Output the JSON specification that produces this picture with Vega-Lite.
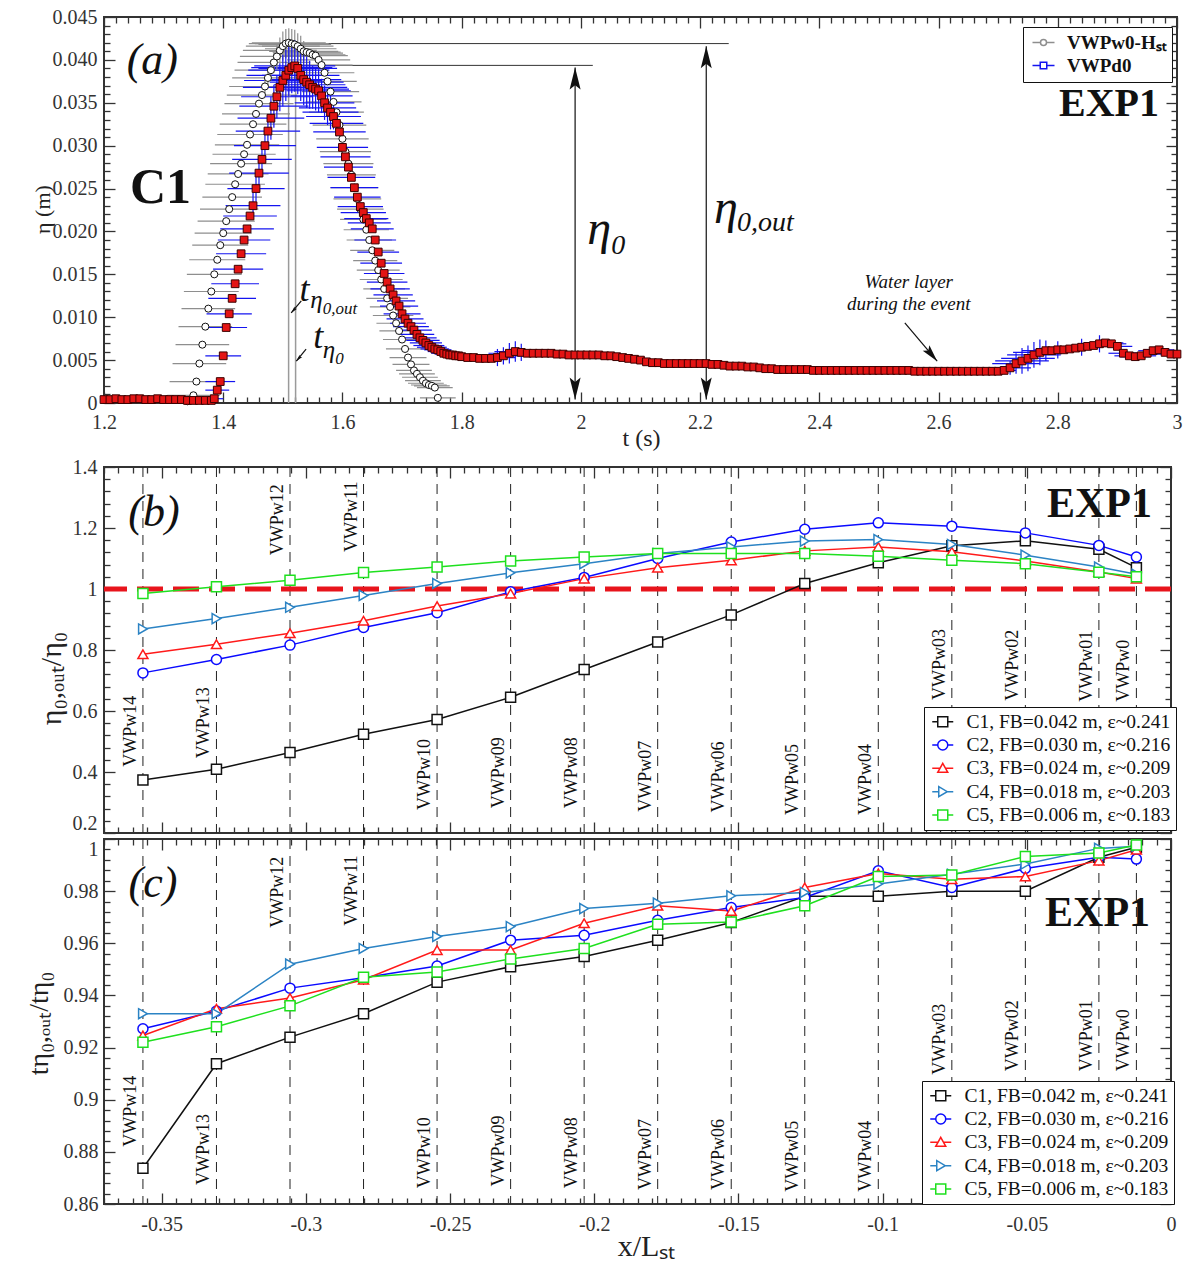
{
"$schema": "https://vega.github.io/schema/vega-lite/v6.json",
"padding": {"left": 24, "top": 6, "right": 4, "bottom": 0},
"background": "white",
"config": {
  "view": {"stroke": "#333", "strokeWidth": 2},
  "font": "Liberation Serif",
  "text": {"font": "Liberation Serif"},
  "axis": {"domain": false, "grid": false, "zindex": 1, "tickColor": "#333", "tickWidth": 1.3, "labelFont": "Liberation Serif", "labelFontSize": 20, "labelColor": "#333", "titleFont": "Liberation Serif", "titleFontWeight": "normal", "titleColor": "#222"},
  "legend": {"labelFont": "Liberation Serif"}
},
"datasets": {
"gauges": [
{"g":"VWPw14","x":-0.3565,"yb":0.4175,"yc":0.882},
{"g":"VWPw13","x":-0.331,"yb":0.445,"yc":0.8673},
{"g":"VWPw12","x":-0.3055,"yb":1.1107,"yc":0.966},
{"g":"VWPw11","x":-0.28,"yb":1.1216,"yc":0.9667},
{"g":"VWPw10","x":-0.2545,"yb":0.2755,"yc":0.866},
{"g":"VWPw09","x":-0.229,"yb":0.281,"yc":0.8667},
{"g":"VWPw08","x":-0.2035,"yb":0.281,"yc":0.866},
{"g":"VWPw07","x":-0.178,"yb":0.27,"yc":0.8654},
{"g":"VWPw06","x":-0.1525,"yb":0.267,"yc":0.8654},
{"g":"VWPw05","x":-0.127,"yb":0.259,"yc":0.8647},
{"g":"VWPw04","x":-0.1015,"yb":0.259,"yc":0.8647},
{"g":"VWPw03","x":-0.076,"yb":0.636,"yc":0.9096},
{"g":"VWPw02","x":-0.0505,"yb":0.634,"yc":0.9109},
{"g":"VWPw01","x":-0.025,"yb":0.63,"yc":0.9109},
{"g":"VWPw0","x":-0.012,"yb":0.63,"yc":0.9109}
],
"pb": [
{"c":"C1","x":-0.3565,"r":0.374},{"c":"C1","x":-0.331,"r":0.409},{"c":"C1","x":-0.3055,"r":0.464},{"c":"C1","x":-0.28,"r":0.524},{"c":"C1","x":-0.2545,"r":0.572},{"c":"C1","x":-0.229,"r":0.645},{"c":"C1","x":-0.2035,"r":0.736},{"c":"C1","x":-0.178,"r":0.826},{"c":"C1","x":-0.1525,"r":0.915},{"c":"C1","x":-0.127,"r":1.018},{"c":"C1","x":-0.1015,"r":1.086},{"c":"C1","x":-0.076,"r":1.142},{"c":"C1","x":-0.0505,"r":1.158},{"c":"C1","x":-0.025,"r":1.13},{"c":"C1","x":-0.012,"r":1.07},
{"c":"C2","x":-0.3565,"r":0.725},{"c":"C2","x":-0.331,"r":0.769},{"c":"C2","x":-0.3055,"r":0.816},{"c":"C2","x":-0.28,"r":0.874},{"c":"C2","x":-0.2545,"r":0.922},{"c":"C2","x":-0.229,"r":0.991},{"c":"C2","x":-0.2035,"r":1.038},{"c":"C2","x":-0.178,"r":1.1},{"c":"C2","x":-0.1525,"r":1.154},{"c":"C2","x":-0.127,"r":1.196},{"c":"C2","x":-0.1015,"r":1.217},{"c":"C2","x":-0.076,"r":1.206},{"c":"C2","x":-0.0505,"r":1.184},{"c":"C2","x":-0.025,"r":1.143},{"c":"C2","x":-0.012,"r":1.105},
{"c":"C3","x":-0.3565,"r":0.786},{"c":"C3","x":-0.331,"r":0.819},{"c":"C3","x":-0.3055,"r":0.855},{"c":"C3","x":-0.28,"r":0.896},{"c":"C3","x":-0.2545,"r":0.944},{"c":"C3","x":-0.229,"r":0.985},{"c":"C3","x":-0.2035,"r":1.034},{"c":"C3","x":-0.178,"r":1.07},{"c":"C3","x":-0.1525,"r":1.094},{"c":"C3","x":-0.127,"r":1.125},{"c":"C3","x":-0.1015,"r":1.138},{"c":"C3","x":-0.076,"r":1.122},{"c":"C3","x":-0.0505,"r":1.092},{"c":"C3","x":-0.025,"r":1.056},{"c":"C3","x":-0.012,"r":1.034},
{"c":"C4","x":-0.3565,"r":0.869},{"c":"C4","x":-0.331,"r":0.903},{"c":"C4","x":-0.3055,"r":0.94},{"c":"C4","x":-0.28,"r":0.979},{"c":"C4","x":-0.2545,"r":1.018},{"c":"C4","x":-0.229,"r":1.053},{"c":"C4","x":-0.2035,"r":1.083},{"c":"C4","x":-0.178,"r":1.116},{"c":"C4","x":-0.1525,"r":1.138},{"c":"C4","x":-0.127,"r":1.157},{"c":"C4","x":-0.1015,"r":1.162},{"c":"C4","x":-0.076,"r":1.146},{"c":"C4","x":-0.0505,"r":1.111},{"c":"C4","x":-0.025,"r":1.072},{"c":"C4","x":-0.012,"r":1.048},
{"c":"C5","x":-0.3565,"r":0.985},{"c":"C5","x":-0.331,"r":1.007},{"c":"C5","x":-0.3055,"r":1.029},{"c":"C5","x":-0.28,"r":1.054},{"c":"C5","x":-0.2545,"r":1.072},{"c":"C5","x":-0.229,"r":1.092},{"c":"C5","x":-0.2035,"r":1.105},{"c":"C5","x":-0.178,"r":1.116},{"c":"C5","x":-0.1525,"r":1.116},{"c":"C5","x":-0.127,"r":1.116},{"c":"C5","x":-0.1015,"r":1.107},{"c":"C5","x":-0.076,"r":1.094},{"c":"C5","x":-0.0505,"r":1.083},{"c":"C5","x":-0.025,"r":1.055},{"c":"C5","x":-0.012,"r":1.04}
],
"pc": [
{"c":"C1","x":-0.3565,"r":0.8737},{"c":"C1","x":-0.331,"r":0.9138},{"c":"C1","x":-0.3055,"r":0.924},{"c":"C1","x":-0.28,"r":0.933},{"c":"C1","x":-0.2545,"r":0.9451},{"c":"C1","x":-0.229,"r":0.951},{"c":"C1","x":-0.2035,"r":0.9549},{"c":"C1","x":-0.178,"r":0.9612},{"c":"C1","x":-0.1525,"r":0.968},{"c":"C1","x":-0.127,"r":0.978},{"c":"C1","x":-0.1015,"r":0.978},{"c":"C1","x":-0.076,"r":0.98},{"c":"C1","x":-0.0505,"r":0.98},{"c":"C1","x":-0.025,"r":0.993},{"c":"C1","x":-0.012,"r":0.9968},
{"c":"C2","x":-0.3565,"r":0.9272},{"c":"C2","x":-0.331,"r":0.934},{"c":"C2","x":-0.3055,"r":0.9428},{"c":"C2","x":-0.28,"r":0.9468},{"c":"C2","x":-0.2545,"r":0.9513},{"c":"C2","x":-0.229,"r":0.9612},{"c":"C2","x":-0.2035,"r":0.9631},{"c":"C2","x":-0.178,"r":0.9688},{"c":"C2","x":-0.1525,"r":0.9737},{"c":"C2","x":-0.127,"r":0.9776},{"c":"C2","x":-0.1015,"r":0.9878},{"c":"C2","x":-0.076,"r":0.9814},{"c":"C2","x":-0.0505,"r":0.9887},{"c":"C2","x":-0.025,"r":0.993},{"c":"C2","x":-0.012,"r":0.9923},
{"c":"C3","x":-0.3565,"r":0.9246},{"c":"C3","x":-0.331,"r":0.9349},{"c":"C3","x":-0.3055,"r":0.939},{"c":"C3","x":-0.28,"r":0.946},{"c":"C3","x":-0.2545,"r":0.9574},{"c":"C3","x":-0.229,"r":0.9574},{"c":"C3","x":-0.2035,"r":0.9677},{"c":"C3","x":-0.178,"r":0.9744},{"c":"C3","x":-0.1525,"r":0.9724},{"c":"C3","x":-0.127,"r":0.9814},{"c":"C3","x":-0.1015,"r":0.9868},{"c":"C3","x":-0.076,"r":0.9846},{"c":"C3","x":-0.0505,"r":0.9856},{"c":"C3","x":-0.025,"r":0.9917},{"c":"C3","x":-0.012,"r":0.9959},
{"c":"C4","x":-0.3565,"r":0.933},{"c":"C4","x":-0.331,"r":0.933},{"c":"C4","x":-0.3055,"r":0.952},{"c":"C4","x":-0.28,"r":0.958},{"c":"C4","x":-0.2545,"r":0.9626},{"c":"C4","x":-0.229,"r":0.9664},{"c":"C4","x":-0.2035,"r":0.9733},{"c":"C4","x":-0.178,"r":0.9754},{"c":"C4","x":-0.1525,"r":0.9782},{"c":"C4","x":-0.127,"r":0.9795},{"c":"C4","x":-0.1015,"r":0.9827},{"c":"C4","x":-0.076,"r":0.9865},{"c":"C4","x":-0.0505,"r":0.9904},{"c":"C4","x":-0.025,"r":0.9964},{"c":"C4","x":-0.012,"r":0.9972},
{"c":"C5","x":-0.3565,"r":0.922},{"c":"C5","x":-0.331,"r":0.928},{"c":"C5","x":-0.3055,"r":0.936},{"c":"C5","x":-0.28,"r":0.947},{"c":"C5","x":-0.2545,"r":0.949},{"c":"C5","x":-0.229,"r":0.954},{"c":"C5","x":-0.2035,"r":0.958},{"c":"C5","x":-0.178,"r":0.9673},{"c":"C5","x":-0.1525,"r":0.9682},{"c":"C5","x":-0.127,"r":0.9744},{"c":"C5","x":-0.1015,"r":0.9856},{"c":"C5","x":-0.076,"r":0.9862},{"c":"C5","x":-0.0505,"r":0.9933},{"c":"C5","x":-0.025,"r":0.9946},{"c":"C5","x":-0.012,"r":0.9977}
],
"pa": [
{"s":"w","t":1.34,"y":0.0002,"e":0.04},{"s":"w","t":1.345,"y":0.0004,"e":0.042},{"s":"w","t":1.35,"y":0.0009,"e":0.044},{"s":"w","t":1.355,"y":0.0025,"e":0.045},{"s":"w","t":1.36,"y":0.0046,"e":0.045},{"s":"w","t":1.365,"y":0.0068,"e":0.045},{"s":"w","t":1.37,"y":0.0089,"e":0.045},{"s":"w","t":1.375,"y":0.011,"e":0.045},{"s":"w","t":1.38,"y":0.013,"e":0.046},{"s":"w","t":1.385,"y":0.015,"e":0.046},{"s":"w","t":1.39,"y":0.0167,"e":0.047},{"s":"w","t":1.395,"y":0.0184,"e":0.047},{"s":"w","t":1.4,"y":0.0198,"e":0.048},{"s":"w","t":1.405,"y":0.0212,"e":0.048},{"s":"w","t":1.41,"y":0.0226,"e":0.049},{"s":"w","t":1.415,"y":0.024,"e":0.05},{"s":"w","t":1.42,"y":0.0255,"e":0.05},{"s":"w","t":1.425,"y":0.0267,"e":0.051},{"s":"w","t":1.43,"y":0.0279,"e":0.052},{"s":"w","t":1.435,"y":0.029,"e":0.053},{"s":"w","t":1.44,"y":0.0301,"e":0.054},{"s":"w","t":1.445,"y":0.0313,"e":0.055},{"s":"w","t":1.45,"y":0.0325,"e":0.056},{"s":"w","t":1.455,"y":0.0337,"e":0.057},{"s":"w","t":1.46,"y":0.0349,"e":0.058},{"s":"w","t":1.465,"y":0.0359,"e":0.059},{"s":"w","t":1.47,"y":0.0369,"e":0.06,"v":0.001},{"s":"w","t":1.475,"y":0.0379,"e":0.06,"v":0.001},{"s":"w","t":1.48,"y":0.0388,"e":0.061,"v":0.0012},{"s":"w","t":1.485,"y":0.0397,"e":0.061,"v":0.0012},{"s":"w","t":1.49,"y":0.0404,"e":0.062,"v":0.0015},{"s":"w","t":1.495,"y":0.0411,"e":0.062,"v":0.0015},{"s":"w","t":1.5,"y":0.0416,"e":0.062,"v":0.0017},{"s":"w","t":1.505,"y":0.0419,"e":0.062,"v":0.0017},{"s":"w","t":1.51,"y":0.042,"e":0.062,"v":0.0017},{"s":"w","t":1.515,"y":0.0419,"e":0.062,"v":0.0017},{"s":"w","t":1.52,"y":0.0418,"e":0.061,"v":0.0017},{"s":"w","t":1.525,"y":0.0416,"e":0.06,"v":0.0015},{"s":"w","t":1.53,"y":0.0413,"e":0.06,"v":0.0015},{"s":"w","t":1.535,"y":0.041,"e":0.058,"v":0.0012},{"s":"w","t":1.54,"y":0.0409,"e":0.057},{"s":"w","t":1.545,"y":0.0408,"e":0.056},{"s":"w","t":1.55,"y":0.0406,"e":0.055},{"s":"w","t":1.555,"y":0.0405,"e":0.054},{"s":"w","t":1.56,"y":0.04,"e":0.053},{"s":"w","t":1.565,"y":0.0394,"e":0.052},{"s":"w","t":1.57,"y":0.0385,"e":0.05},{"s":"w","t":1.575,"y":0.0375,"e":0.049},{"s":"w","t":1.58,"y":0.0363,"e":0.048},{"s":"w","t":1.585,"y":0.0351,"e":0.047},{"s":"w","t":1.59,"y":0.0339,"e":0.046},{"s":"w","t":1.595,"y":0.0324,"e":0.045},{"s":"w","t":1.6,"y":0.0308,"e":0.044},{"s":"w","t":1.605,"y":0.0293,"e":0.043},{"s":"w","t":1.61,"y":0.0279,"e":0.042},{"s":"w","t":1.615,"y":0.0266,"e":0.041},{"s":"w","t":1.62,"y":0.0251,"e":0.04},{"s":"w","t":1.625,"y":0.0238,"e":0.04},{"s":"w","t":1.63,"y":0.0226,"e":0.039},{"s":"w","t":1.635,"y":0.0214,"e":0.039},{"s":"w","t":1.64,"y":0.0202,"e":0.038},{"s":"w","t":1.645,"y":0.019,"e":0.038},{"s":"w","t":1.65,"y":0.0178,"e":0.037},{"s":"w","t":1.655,"y":0.0166,"e":0.037},{"s":"w","t":1.66,"y":0.0155,"e":0.036},{"s":"w","t":1.665,"y":0.0144,"e":0.036},{"s":"w","t":1.67,"y":0.0133,"e":0.035},{"s":"w","t":1.675,"y":0.0122,"e":0.035},{"s":"w","t":1.68,"y":0.0112,"e":0.034},{"s":"w","t":1.685,"y":0.0102,"e":0.034},{"s":"w","t":1.69,"y":0.0093,"e":0.033},{"s":"w","t":1.695,"y":0.0084,"e":0.033},{"s":"w","t":1.7,"y":0.0074,"e":0.032},{"s":"w","t":1.705,"y":0.0063,"e":0.032},{"s":"w","t":1.71,"y":0.0053,"e":0.031},{"s":"w","t":1.715,"y":0.0045,"e":0.031},{"s":"w","t":1.72,"y":0.0038,"e":0.03},{"s":"w","t":1.725,"y":0.0034,"e":0.03},{"s":"w","t":1.73,"y":0.003,"e":0.03},{"s":"w","t":1.735,"y":0.0026,"e":0.03},{"s":"w","t":1.74,"y":0.0023,"e":0.03},{"s":"w","t":1.745,"y":0.0021,"e":0.03},{"s":"w","t":1.75,"y":0.002,"e":0.03},{"s":"w","t":1.755,"y":0.0018,"e":0.03},{"s":"w","t":1.76,"y":0.0006,"e":0.03},
{"s":"d","t":1.2,"y":0.0004,"e":0.004},{"s":"d","t":1.21,"y":0.0004,"e":0.004},{"s":"d","t":1.22,"y":0.0005,"e":0.004},{"s":"d","t":1.23,"y":0.0004,"e":0.004},{"s":"d","t":1.24,"y":0.0004,"e":0.004},{"s":"d","t":1.25,"y":0.0005,"e":0.004},{"s":"d","t":1.26,"y":0.0005,"e":0.004},{"s":"d","t":1.27,"y":0.0004,"e":0.004},{"s":"d","t":1.28,"y":0.0004,"e":0.004},{"s":"d","t":1.29,"y":0.0005,"e":0.004},{"s":"d","t":1.3,"y":0.0004,"e":0.004},{"s":"d","t":1.31,"y":0.0004,"e":0.004},{"s":"d","t":1.32,"y":0.0004,"e":0.004},{"s":"d","t":1.33,"y":0.0004,"e":0.004},{"s":"d","t":1.34,"y":0.0003,"e":0.004},{"s":"d","t":1.35,"y":0.0003,"e":0.004},{"s":"d","t":1.36,"y":0.0003,"e":0.004},{"s":"d","t":1.37,"y":0.0003,"e":0.004},{"s":"d","t":1.38,"y":0.0003,"e":0.006},
{"s":"d","t":1.385,"y":0.0005,"e":0.015},{"s":"d","t":1.39,"y":0.0015,"e":0.02},{"s":"d","t":1.395,"y":0.0025,"e":0.025},{"s":"d","t":1.4,"y":0.0055,"e":0.03},{"s":"d","t":1.405,"y":0.0088,"e":0.035},{"s":"d","t":1.41,"y":0.0104,"e":0.038},{"s":"d","t":1.415,"y":0.0122,"e":0.04},{"s":"d","t":1.42,"y":0.0139,"e":0.04},{"s":"d","t":1.425,"y":0.0156,"e":0.042},{"s":"d","t":1.43,"y":0.0174,"e":0.042},{"s":"d","t":1.435,"y":0.019,"e":0.044},{"s":"d","t":1.44,"y":0.0203,"e":0.045},{"s":"d","t":1.445,"y":0.0218,"e":0.045},{"s":"d","t":1.45,"y":0.023,"e":0.046,"v":0.0015},{"s":"d","t":1.455,"y":0.025,"e":0.048,"v":0.0015},{"s":"d","t":1.46,"y":0.0268,"e":0.05,"v":0.0015},{"s":"d","t":1.465,"y":0.0284,"e":0.05,"v":0.002},{"s":"d","t":1.47,"y":0.03,"e":0.052,"v":0.002},{"s":"d","t":1.475,"y":0.0317,"e":0.054,"v":0.002},{"s":"d","t":1.48,"y":0.0332,"e":0.056,"v":0.0025},{"s":"d","t":1.485,"y":0.0346,"e":0.058,"v":0.0025},{"s":"d","t":1.49,"y":0.0357,"e":0.06,"v":0.0025},{"s":"d","t":1.495,"y":0.0368,"e":0.062,"v":0.0028},{"s":"d","t":1.5,"y":0.0376,"e":0.065,"v":0.003},{"s":"d","t":1.505,"y":0.0382,"e":0.066,"v":0.003},{"s":"d","t":1.51,"y":0.0388,"e":0.068,"v":0.003},{"s":"d","t":1.515,"y":0.0391,"e":0.068,"v":0.003},{"s":"d","t":1.52,"y":0.0393,"e":0.068,"v":0.003},{"s":"d","t":1.525,"y":0.039,"e":0.066,"v":0.003},{"s":"d","t":1.53,"y":0.0382,"e":0.065,"v":0.003},{"s":"d","t":1.535,"y":0.0377,"e":0.063,"v":0.003},{"s":"d","t":1.54,"y":0.0374,"e":0.062,"v":0.003},{"s":"d","t":1.545,"y":0.0371,"e":0.06,"v":0.0028},{"s":"d","t":1.55,"y":0.0368,"e":0.058,"v":0.0025},{"s":"d","t":1.555,"y":0.0366,"e":0.056,"v":0.0025},{"s":"d","t":1.56,"y":0.0364,"e":0.054,"v":0.0025},{"s":"d","t":1.565,"y":0.0358,"e":0.052,"v":0.002},{"s":"d","t":1.57,"y":0.035,"e":0.05,"v":0.002},{"s":"d","t":1.575,"y":0.0344,"e":0.048,"v":0.002},{"s":"d","t":1.58,"y":0.0339,"e":0.047,"v":0.002},{"s":"d","t":1.585,"y":0.0334,"e":0.046,"v":0.0015},{"s":"d","t":1.59,"y":0.0326,"e":0.045,"v":0.0015},{"s":"d","t":1.595,"y":0.0316,"e":0.044},{"s":"d","t":1.6,"y":0.0298,"e":0.043},{"s":"d","t":1.605,"y":0.0287,"e":0.042},{"s":"d","t":1.61,"y":0.0275,"e":0.041},{"s":"d","t":1.615,"y":0.0263,"e":0.04},{"s":"d","t":1.62,"y":0.0251,"e":0.04},{"s":"d","t":1.625,"y":0.024,"e":0.039},{"s":"d","t":1.63,"y":0.0229,"e":0.038},{"s":"d","t":1.635,"y":0.0222,"e":0.038},{"s":"d","t":1.64,"y":0.0215,"e":0.037},{"s":"d","t":1.645,"y":0.021,"e":0.036},{"s":"d","t":1.65,"y":0.0203,"e":0.036},{"s":"d","t":1.655,"y":0.019,"e":0.035},{"s":"d","t":1.66,"y":0.0176,"e":0.035},{"s":"d","t":1.665,"y":0.0163,"e":0.035},{"s":"d","t":1.67,"y":0.0151,"e":0.034},{"s":"d","t":1.675,"y":0.0141,"e":0.034},{"s":"d","t":1.68,"y":0.0133,"e":0.033},{"s":"d","t":1.685,"y":0.0126,"e":0.033},{"s":"d","t":1.69,"y":0.0119,"e":0.032},{"s":"d","t":1.695,"y":0.0113,"e":0.032},{"s":"d","t":1.7,"y":0.0104,"e":0.031},{"s":"d","t":1.705,"y":0.0098,"e":0.031},{"s":"d","t":1.71,"y":0.0093,"e":0.03},{"s":"d","t":1.715,"y":0.0089,"e":0.03},{"s":"d","t":1.72,"y":0.0085,"e":0.03},{"s":"d","t":1.725,"y":0.008,"e":0.029},{"s":"d","t":1.73,"y":0.0076,"e":0.028},{"s":"d","t":1.735,"y":0.0073,"e":0.028},{"s":"d","t":1.74,"y":0.007,"e":0.027},{"s":"d","t":1.745,"y":0.0067,"e":0.026},{"s":"d","t":1.75,"y":0.0065,"e":0.025},{"s":"d","t":1.755,"y":0.0063,"e":0.024},{"s":"d","t":1.76,"y":0.0062,"e":0.023},{"s":"d","t":1.765,"y":0.006,"e":0.022},{"s":"d","t":1.77,"y":0.0058,"e":0.021},{"s":"d","t":1.775,"y":0.0057,"e":0.02},{"s":"d","t":1.78,"y":0.0056,"e":0.019},{"s":"d","t":1.785,"y":0.0056,"e":0.018},{"s":"d","t":1.79,"y":0.0055,"e":0.017},{"s":"d","t":1.795,"y":0.0055,"e":0.016},{"s":"d","t":1.8,"y":0.0054,"e":0.015},
{"s":"d","t":1.81,"y":0.0053,"e":0.014},{"s":"d","t":1.82,"y":0.0053,"e":0.013},{"s":"d","t":1.83,"y":0.0052,"e":0.012},{"s":"d","t":1.84,"y":0.0052,"e":0.012},{"s":"d","t":1.85,"y":0.0052,"e":0.02},{"s":"d","t":1.86,"y":0.0053,"e":0.03,"v":0.001},{"s":"d","t":1.87,"y":0.0055,"e":0.035,"v":0.001},{"s":"d","t":1.88,"y":0.0058,"e":0.035,"v":0.0012},{"s":"d","t":1.89,"y":0.006,"e":0.035,"v":0.0012},{"s":"d","t":1.9,"y":0.0059,"e":0.03,"v":0.001},{"s":"d","t":1.91,"y":0.0058,"e":0.028},{"s":"d","t":1.92,"y":0.0058,"e":0.025},{"s":"d","t":1.93,"y":0.0058,"e":0.022},{"s":"d","t":1.94,"y":0.0058,"e":0.02},{"s":"d","t":1.95,"y":0.0058,"e":0.02},{"s":"d","t":1.96,"y":0.0057,"e":0.02},{"s":"d","t":1.97,"y":0.0057,"e":0.02},{"s":"d","t":1.98,"y":0.0056,"e":0.02},{"s":"d","t":1.99,"y":0.0056,"e":0.018},{"s":"d","t":2.0,"y":0.0056,"e":0.018},{"s":"d","t":2.01,"y":0.0056,"e":0.018},{"s":"d","t":2.02,"y":0.0056,"e":0.018},{"s":"d","t":2.03,"y":0.0056,"e":0.016},{"s":"d","t":2.04,"y":0.0055,"e":0.016},{"s":"d","t":2.05,"y":0.0055,"e":0.016},{"s":"d","t":2.06,"y":0.0054,"e":0.015},{"s":"d","t":2.07,"y":0.0053,"e":0.015},{"s":"d","t":2.08,"y":0.0052,"e":0.014},{"s":"d","t":2.09,"y":0.0051,"e":0.014},{"s":"d","t":2.1,"y":0.005,"e":0.013},{"s":"d","t":2.11,"y":0.0048,"e":0.013},{"s":"d","t":2.12,"y":0.0047,"e":0.013},{"s":"d","t":2.13,"y":0.0047,"e":0.013},{"s":"d","t":2.14,"y":0.0046,"e":0.013},{"s":"d","t":2.15,"y":0.0046,"e":0.013},{"s":"d","t":2.16,"y":0.0046,"e":0.013},{"s":"d","t":2.17,"y":0.0046,"e":0.013},{"s":"d","t":2.18,"y":0.0046,"e":0.013},{"s":"d","t":2.19,"y":0.0046,"e":0.013},{"s":"d","t":2.2,"y":0.0046,"e":0.013},{"s":"d","t":2.21,"y":0.0046,"e":0.013},{"s":"d","t":2.22,"y":0.0045,"e":0.013},{"s":"d","t":2.23,"y":0.0045,"e":0.013},{"s":"d","t":2.24,"y":0.0044,"e":0.013},{"s":"d","t":2.25,"y":0.0043,"e":0.013},{"s":"d","t":2.26,"y":0.0043,"e":0.013},{"s":"d","t":2.27,"y":0.0043,"e":0.013},{"s":"d","t":2.28,"y":0.0042,"e":0.013},{"s":"d","t":2.29,"y":0.0042,"e":0.013},{"s":"d","t":2.3,"y":0.0041,"e":0.014},{"s":"d","t":2.31,"y":0.004,"e":0.014},{"s":"d","t":2.32,"y":0.004,"e":0.014},{"s":"d","t":2.33,"y":0.0039,"e":0.014},{"s":"d","t":2.34,"y":0.0039,"e":0.014},{"s":"d","t":2.35,"y":0.0039,"e":0.014},{"s":"d","t":2.36,"y":0.0039,"e":0.014},{"s":"d","t":2.37,"y":0.0039,"e":0.014},{"s":"d","t":2.38,"y":0.0039,"e":0.014},{"s":"d","t":2.39,"y":0.0038,"e":0.014},{"s":"d","t":2.4,"y":0.0038,"e":0.014},{"s":"d","t":2.41,"y":0.0038,"e":0.014},{"s":"d","t":2.42,"y":0.0038,"e":0.014},{"s":"d","t":2.43,"y":0.0038,"e":0.014},{"s":"d","t":2.44,"y":0.0038,"e":0.014},{"s":"d","t":2.45,"y":0.0038,"e":0.014},{"s":"d","t":2.46,"y":0.0038,"e":0.014},{"s":"d","t":2.47,"y":0.0038,"e":0.014},{"s":"d","t":2.48,"y":0.0038,"e":0.014},{"s":"d","t":2.49,"y":0.0038,"e":0.014},{"s":"d","t":2.5,"y":0.0038,"e":0.014},{"s":"d","t":2.51,"y":0.0038,"e":0.014},{"s":"d","t":2.52,"y":0.0038,"e":0.014},{"s":"d","t":2.53,"y":0.0038,"e":0.014},{"s":"d","t":2.54,"y":0.0038,"e":0.014},{"s":"d","t":2.55,"y":0.0038,"e":0.014},{"s":"d","t":2.56,"y":0.0037,"e":0.014},{"s":"d","t":2.57,"y":0.0037,"e":0.014},{"s":"d","t":2.58,"y":0.0037,"e":0.014},{"s":"d","t":2.59,"y":0.0037,"e":0.014},{"s":"d","t":2.6,"y":0.0037,"e":0.014},{"s":"d","t":2.61,"y":0.0037,"e":0.014},{"s":"d","t":2.62,"y":0.0037,"e":0.014},{"s":"d","t":2.63,"y":0.0037,"e":0.014},{"s":"d","t":2.64,"y":0.0037,"e":0.014},{"s":"d","t":2.65,"y":0.0037,"e":0.014},{"s":"d","t":2.66,"y":0.0037,"e":0.014},{"s":"d","t":2.67,"y":0.0037,"e":0.014},{"s":"d","t":2.68,"y":0.0037,"e":0.014},{"s":"d","t":2.69,"y":0.0037,"e":0.014},{"s":"d","t":2.7,"y":0.0037,"e":0.016},{"s":"d","t":2.71,"y":0.0038,"e":0.02},{"s":"d","t":2.72,"y":0.0041,"e":0.035,"v":0.0008},{"s":"d","t":2.73,"y":0.0046,"e":0.04,"v":0.0012},{"s":"d","t":2.74,"y":0.0049,"e":0.045,"v":0.0015},{"s":"d","t":2.75,"y":0.0052,"e":0.045,"v":0.0015},{"s":"d","t":2.76,"y":0.0056,"e":0.045,"v":0.0015},{"s":"d","t":2.77,"y":0.0059,"e":0.045,"v":0.0015},{"s":"d","t":2.78,"y":0.0061,"e":0.04,"v":0.0012},{"s":"d","t":2.79,"y":0.0061,"e":0.04},{"s":"d","t":2.8,"y":0.0062,"e":0.04,"v":0.001},{"s":"d","t":2.81,"y":0.0062,"e":0.035},{"s":"d","t":2.82,"y":0.0063,"e":0.035},{"s":"d","t":2.83,"y":0.0064,"e":0.035},{"s":"d","t":2.84,"y":0.0065,"e":0.035,"v":0.001},{"s":"d","t":2.85,"y":0.0066,"e":0.03},{"s":"d","t":2.86,"y":0.0067,"e":0.03},{"s":"d","t":2.87,"y":0.0069,"e":0.03,"v":0.001},{"s":"d","t":2.88,"y":0.007,"e":0.03},{"s":"d","t":2.89,"y":0.0069,"e":0.025},{"s":"d","t":2.9,"y":0.0066,"e":0.025},{"s":"d","t":2.91,"y":0.0058,"e":0.025},{"s":"d","t":2.92,"y":0.0055,"e":0.025},{"s":"d","t":2.93,"y":0.0054,"e":0.025},{"s":"d","t":2.94,"y":0.0055,"e":0.025},{"s":"d","t":2.95,"y":0.0058,"e":0.025},{"s":"d","t":2.96,"y":0.0061,"e":0.025},{"s":"d","t":2.97,"y":0.0062,"e":0.025},{"s":"d","t":2.98,"y":0.0059,"e":0.025},{"s":"d","t":2.99,"y":0.0057,"e":0.025},{"s":"d","t":3.0,"y":0.0057,"e":0.025}
]
},
"spacing": 5,
"resolve": {"scale": {"color": "independent", "shape": "independent"}, "legend": {"color": "independent", "shape": "independent"}},
"vconcat": [
{
 "width": 1073, "height": 386,
 "resolve": {"axis": {"x": "independent", "y": "independent"}},
 "layer": [
  {"data": {"name": "pa"}, "mark": {"type": "point", "opacity": 0},
   "encoding": {"x": {"field": "t", "type": "quantitative", "scale": {"domain": [1.2, 3], "nice": false, "zero": false, "clamp": true},
       "axis": {"orient": "bottom", "tickCount": 90, "tickSize": -11, "tickDash": {"condition": {"test": "abs(datum.value*5-round(datum.value*5))<1e-6", "value": [20, 0]}, "value": [6, 30]}, "labelExpr": "abs(datum.value*5-round(datum.value*5))<1e-6 ? format(datum.value,'~g') : ''", "labelPadding": 20, "labelOverlap": false, "labelFlush": false, "title": "t (s)", "titleFontSize": 24, "titleX": 537, "titleY": 23, "titleBaseline": "top"}},
     "y": {"field": "y", "type": "quantitative", "scale": {"domain": [0, 0.045], "nice": false, "zero": false},
       "axis": {"orient": "left", "tickCount": 45, "tickSize": -11, "tickDash": {"condition": {"test": "abs(datum.value*200-round(datum.value*200))<1e-6", "value": [20, 0]}, "value": [6, 30]}, "labelExpr": "abs(datum.value*200-round(datum.value*200))<1e-6 ? (datum.value==0 ? '0' : format(datum.value,'.3f')) : ''", "labelPadding": 18, "labelOverlap": false, "labelFlush": false, "title": "η (m)", "titleFontSize": 22, "titleAngle": 270, "titleX": -62, "titleY": 192, "titleBaseline": "middle", "titleAlign": "center"}}}},
  {"data": {"name": "pa"}, "mark": {"type": "point", "opacity": 0},
   "encoding": {"x": {"field": "t", "type": "quantitative", "scale": {"domain": [1.2, 3], "nice": false, "zero": false, "clamp": true},
       "axis": {"orient": "top", "tickCount": 90, "tickSize": -11, "tickDash": {"condition": {"test": "abs(datum.value*5-round(datum.value*5))<1e-6", "value": [20, 0]}, "value": [6, 30]}, "labels": false, "title": null}},
     "y": {"field": "y", "type": "quantitative", "scale": {"domain": [0, 0.045], "nice": false, "zero": false},
       "axis": {"orient": "right", "tickCount": 45, "tickSize": -11, "tickDash": {"condition": {"test": "abs(datum.value*200-round(datum.value*200))<1e-6", "value": [20, 0]}, "value": [6, 30]}, "labels": false, "title": null}}}},
  {"data": {"values": [{"t":1.5097,"y1":0,"y2":0.0419},{"t":1.5214,"y1":0,"y2":0.0393}]},
   "mark": {"type": "rule", "color": "#9a9a9a", "strokeWidth": 1.5},
   "encoding": {"x": {"field": "t", "type": "quantitative", "scale": {"domain": [1.2, 3], "nice": false, "zero": false, "clamp": true}, "axis": null},
     "y": {"field": "y1", "type": "quantitative", "scale": {"domain": [0, 0.045], "nice": false, "zero": false}, "axis": null}, "y2": {"field": "y2"}}},
  {"data": {"values": [{"x1":1.5097,"x2":2.248,"y":0.0419},{"x1":1.5214,"x2":2.02,"y":0.03936}]},
   "mark": {"type": "rule", "color": "#333", "strokeWidth": 1},
   "encoding": {"x": {"field": "x1", "type": "quantitative", "scale": {"domain": [1.2, 3], "nice": false, "zero": false, "clamp": true}, "axis": null},
     "x2": {"field": "x2"},
     "y": {"field": "y", "type": "quantitative", "scale": {"domain": [0, 0.045], "nice": false, "zero": false}, "axis": null}}},
  {"data": {"name": "pa"},
   "mark": {"type": "errorbar", "thickness": 1.2},
   "encoding": {"x": {"field": "t", "type": "quantitative", "scale": {"domain": [1.2, 3], "nice": false, "zero": false, "clamp": true}, "axis": null},
     "xError": {"field": "e"},
     "y": {"field": "y", "type": "quantitative", "scale": {"domain": [0, 0.045], "nice": false, "zero": false}, "axis": null},
     "color": {"field": "s", "type": "nominal", "scale": {"domain": ["w", "d"], "range": ["#8e8e8e", "#1414f0"]},
       "legend": {"title": null, "orient": "none", "legendX": 919, "legendY": 10, "padding": 6, "fillColor": "white", "strokeColor": "#111", "labelFontSize": 19, "labelFontWeight": "bold", "labelColor": "#111", "labelLimit": 300, "labelExpr": "datum.value=='w' ? 'VWPw0-Hₛₜ' : 'VWPd0'", "symbolSize": 100, "symbolOffset": 5, "labelOffset": 14, "rowPadding": 3, "symbolStrokeWidth": 1.5, "symbolFillColor": "white", "symbolOpacity": 1}}}},
  {"data": {"name": "pa"}, "transform": [{"filter": "datum.v > 0"}],
   "mark": {"type": "errorbar", "thickness": 1.2},
   "encoding": {"x": {"field": "t", "type": "quantitative", "scale": {"domain": [1.2, 3], "nice": false, "zero": false, "clamp": true}, "axis": null},
     "y": {"field": "y", "type": "quantitative", "scale": {"domain": [0, 0.045], "nice": false, "zero": false}, "axis": null},
     "yError": {"field": "v"},
     "color": {"field": "s", "type": "nominal", "scale": {"domain": ["w", "d"], "range": ["#8e8e8e", "#1414f0"]},
       "legend": {"title": null, "orient": "none", "legendX": 919, "legendY": 10, "padding": 6, "fillColor": "white", "strokeColor": "#111", "labelFontSize": 19, "labelFontWeight": "bold", "labelColor": "#111", "labelLimit": 300, "labelExpr": "datum.value=='w' ? 'VWPw0-Hₛₜ' : 'VWPd0'", "symbolSize": 100, "symbolOffset": 5, "labelOffset": 14, "rowPadding": 3, "symbolStrokeWidth": 1.5, "symbolFillColor": "white", "symbolOpacity": 1}}}},
  {"data": {"values": [{"x1":1.9903,"y1":0.0004,"x2":1.9903,"y2":0.0391},{"x1":2.2103,"y1":0.0004,"x2":2.2103,"y2":0.0416},{"x1":2.5434,"y1":0.00933,"x2":2.5977,"y2":0.00487},{"x1":1.531,"y1":0.0119,"x2":1.514,"y2":0.0105},{"x1":1.539,"y1":0.00627,"x2":1.5226,"y2":0.00487}]},
   "mark": {"type": "rule", "color": "#111", "strokeWidth": 1.2},
   "encoding": {"x": {"field": "x1", "type": "quantitative", "scale": {"domain": [1.2, 3], "nice": false, "zero": false, "clamp": true}, "axis": null},
     "y": {"field": "y1", "type": "quantitative", "scale": {"domain": [0, 0.045], "nice": false, "zero": false}, "axis": null},
     "x2": {"field": "x2"}, "y2": {"field": "y2"}}},
  {"data": {"name": "pa"}, "mark": {"type": "point", "filled": false, "opacity": 0, "strokeWidth": 1.5},
   "encoding": {"x": {"field": "t", "type": "quantitative", "scale": {"domain": [1.2, 3], "nice": false, "zero": false, "clamp": true}, "axis": null},
     "y": {"field": "y", "type": "quantitative", "scale": {"domain": [0, 0.045], "nice": false, "zero": false}, "axis": null},
     "color": {"field": "s", "type": "nominal", "scale": {"domain": ["w", "d"], "range": ["#8e8e8e", "#1414f0"]},
       "legend": {"title": null, "orient": "none", "legendX": 919, "legendY": 10, "padding": 6, "fillColor": "white", "strokeColor": "#111", "labelFontSize": 19, "labelFontWeight": "bold", "labelColor": "#111", "labelLimit": 300, "labelExpr": "datum.value=='w' ? 'VWPw0-Hₛₜ' : 'VWPd0'", "symbolSize": 100, "symbolOffset": 5, "labelOffset": 14, "rowPadding": 3, "symbolStrokeWidth": 1.5, "symbolFillColor": "white", "symbolOpacity": 1}},
     "shape": {"field": "s", "type": "nominal", "scale": {"domain": ["w", "d"], "range": ["M-2.2,0H-0.6M0.6,0H2.2M-0.6,0A0.6,0.6 0 1,0 0.6,0A0.6,0.6 0 1,0 -0.6,0Z", "M-2.2,0H-0.65M0.65,0H2.2M-0.65,-0.65H0.65V0.65H-0.65Z"]},
       "legend": {"title": null, "orient": "none", "legendX": 919, "legendY": 10, "padding": 6, "fillColor": "white", "strokeColor": "#111", "labelFontSize": 19, "labelFontWeight": "bold", "labelColor": "#111", "labelLimit": 300, "labelExpr": "datum.value=='w' ? 'VWPw0-Hₛₜ' : 'VWPd0'", "symbolSize": 100, "symbolOffset": 5, "labelOffset": 14, "rowPadding": 3, "symbolStrokeWidth": 1.5, "symbolFillColor": "white", "symbolOpacity": 1}}}},
  {"data": {"name": "pa"}, "transform": [{"filter": "datum.s == 'w'"}],
   "mark": {"type": "point", "shape": "circle", "filled": true, "fill": "#ffffff", "stroke": "#111111", "opacity": 1, "strokeWidth": 1, "size": 50},
   "encoding": {"x": {"field": "t", "type": "quantitative", "scale": {"domain": [1.2, 3], "nice": false, "zero": false, "clamp": true}, "axis": null},
     "y": {"field": "y", "type": "quantitative", "scale": {"domain": [0, 0.045], "nice": false, "zero": false}, "axis": null}}},
  {"data": {"name": "pa"}, "transform": [{"filter": "datum.s == 'd'"}],
   "mark": {"type": "point", "shape": "square", "filled": true, "fill": "#e31414", "stroke": "#3c0000", "opacity": 1, "strokeWidth": 1, "size": 60},
   "encoding": {"x": {"field": "t", "type": "quantitative", "scale": {"domain": [1.2, 3], "nice": false, "zero": false, "clamp": true}, "axis": null},
     "y": {"field": "y", "type": "quantitative", "scale": {"domain": [0, 0.045], "nice": false, "zero": false}, "axis": null}}},
  {"data": {"values": [{"t":1.9903,"y":0.0391},{"t":2.2103,"y":0.0416}]},
   "mark": {"type": "point", "shape": "M0,0L0.5,2L0,1.6L-0.5,2Z", "size": 484, "filled": true, "color": "#111", "opacity": 1},
   "encoding": {"x": {"field": "t", "type": "quantitative", "scale": {"domain": [1.2, 3], "nice": false, "zero": false, "clamp": true}, "axis": null},
     "y": {"field": "y", "type": "quantitative", "scale": {"domain": [0, 0.045], "nice": false, "zero": false}, "axis": null}}},
  {"data": {"values": [{"t":1.9903,"y":0.0004},{"t":2.2103,"y":0.0004}]},
   "mark": {"type": "point", "shape": "M0,0L0.5,-2L0,-1.6L-0.5,-2Z", "size": 484, "filled": true, "color": "#111", "opacity": 1},
   "encoding": {"x": {"field": "t", "type": "quantitative", "scale": {"domain": [1.2, 3], "nice": false, "zero": false, "clamp": true}, "axis": null},
     "y": {"field": "y", "type": "quantitative", "scale": {"domain": [0, 0.045], "nice": false, "zero": false}, "axis": null}}},
  {"data": {"values": [{"t":2.5977,"y":0.00487}]},
   "mark": {"type": "point", "shape": "M0,0L0.5,-2L0,-1.6L-0.5,-2Z", "size": 300, "angle": 320, "filled": true, "color": "#111", "opacity": 1},
   "encoding": {"x": {"field": "t", "type": "quantitative", "scale": {"domain": [1.2, 3], "nice": false, "zero": false, "clamp": true}, "axis": null},
     "y": {"field": "y", "type": "quantitative", "scale": {"domain": [0, 0.045], "nice": false, "zero": false}, "axis": null}}},
  {"data": {"values": [{"t":1.514,"y":0.0105},{"t":1.5226,"y":0.00487}]},
   "mark": {"type": "point", "shape": "M0,0L0.5,-2L0,-1.6L-0.5,-2Z", "size": 50, "angle": 41, "filled": true, "color": "#111", "opacity": 1},
   "encoding": {"x": {"field": "t", "type": "quantitative", "scale": {"domain": [1.2, 3], "nice": false, "zero": false, "clamp": true}, "axis": null},
     "y": {"field": "y", "type": "quantitative", "scale": {"domain": [0, 0.045], "nice": false, "zero": false}, "axis": null}}},
  {"data": {"values": [{"t":1.2947,"y":0.0233,"s":"C1"}]},
   "mark": {"type": "text", "fontSize": 50, "fontWeight": "bold", "align": "center", "baseline": "alphabetic", "color": "#111"},
   "encoding": {"x": {"field": "t", "type": "quantitative", "scale": {"domain": [1.2, 3], "nice": false, "zero": false, "clamp": true}, "axis": null},
     "y": {"field": "y", "type": "quantitative", "scale": {"domain": [0, 0.045], "nice": false, "zero": false}, "axis": null}, "text": {"field": "s"}}},
  {"data": {"values": [{"t":2.886,"y":0.03344,"s":"EXP1"}]},
   "mark": {"type": "text", "fontSize": 40, "fontWeight": "bold", "align": "center", "baseline": "alphabetic", "color": "#111"},
   "encoding": {"x": {"field": "t", "type": "quantitative", "scale": {"domain": [1.2, 3], "nice": false, "zero": false, "clamp": true}, "axis": null},
     "y": {"field": "y", "type": "quantitative", "scale": {"domain": [0, 0.045], "nice": false, "zero": false}, "axis": null}, "text": {"field": "s"}}},
  {"data": {"values": [{"t":1.281,"y":0.03985,"s":"(a)"}]},
   "mark": {"type": "text", "fontSize": 44, "fontStyle": "italic", "align": "center", "baseline": "middle", "color": "#111"},
   "encoding": {"x": {"field": "t", "type": "quantitative", "scale": {"domain": [1.2, 3], "nice": false, "zero": false, "clamp": true}, "axis": null},
     "y": {"field": "y", "type": "quantitative", "scale": {"domain": [0, 0.045], "nice": false, "zero": false}, "axis": null}, "text": {"field": "s"}}},
  {"data": {"values": [{"t":2.0107,"y":0.0185,"s":"η"},{"t":2.2235,"y":0.021,"s":"η"}]},
   "mark": {"type": "text", "fontSize": 48, "fontStyle": "italic", "align": "left", "baseline": "alphabetic", "color": "#111"},
   "encoding": {"x": {"field": "t", "type": "quantitative", "scale": {"domain": [1.2, 3], "nice": false, "zero": false, "clamp": true}, "axis": null},
     "y": {"field": "y", "type": "quantitative", "scale": {"domain": [0, 0.045], "nice": false, "zero": false}, "axis": null}, "text": {"field": "s"}}},
  {"data": {"values": [{"t":2.051,"y":0.0174,"s":"0"},{"t":2.262,"y":0.02,"s":"0,out"}]},
   "mark": {"type": "text", "fontSize": 28, "fontStyle": "italic", "align": "left", "baseline": "alphabetic", "color": "#111"},
   "encoding": {"x": {"field": "t", "type": "quantitative", "scale": {"domain": [1.2, 3], "nice": false, "zero": false, "clamp": true}, "axis": null},
     "y": {"field": "y", "type": "quantitative", "scale": {"domain": [0, 0.045], "nice": false, "zero": false}, "axis": null}, "text": {"field": "s"}}},
  {"data": {"values": [{"t":1.528,"y":0.01187,"s":"t"},{"t":1.551,"y":0.00638,"s":"t"}]},
   "mark": {"type": "text", "fontSize": 36, "fontStyle": "italic", "align": "left", "baseline": "alphabetic", "color": "#111"},
   "encoding": {"x": {"field": "t", "type": "quantitative", "scale": {"domain": [1.2, 3], "nice": false, "zero": false, "clamp": true}, "axis": null},
     "y": {"field": "y", "type": "quantitative", "scale": {"domain": [0, 0.045], "nice": false, "zero": false}, "axis": null}, "text": {"field": "s"}}},
  {"data": {"values": [{"t":1.546,"y":0.0111,"s":"η"},{"t":1.567,"y":0.0052,"s":"η"}]},
   "mark": {"type": "text", "fontSize": 25, "fontStyle": "italic", "align": "left", "baseline": "alphabetic", "color": "#111"},
   "encoding": {"x": {"field": "t", "type": "quantitative", "scale": {"domain": [1.2, 3], "nice": false, "zero": false, "clamp": true}, "axis": null},
     "y": {"field": "y", "type": "quantitative", "scale": {"domain": [0, 0.045], "nice": false, "zero": false}, "axis": null}, "text": {"field": "s"}}},
  {"data": {"values": [{"t":1.567,"y":0.0104,"s":"0,out"},{"t":1.588,"y":0.0046,"s":"0"}]},
   "mark": {"type": "text", "fontSize": 17, "fontStyle": "italic", "align": "left", "baseline": "alphabetic", "color": "#111"},
   "encoding": {"x": {"field": "t", "type": "quantitative", "scale": {"domain": [1.2, 3], "nice": false, "zero": false, "clamp": true}, "axis": null},
     "y": {"field": "y", "type": "quantitative", "scale": {"domain": [0, 0.045], "nice": false, "zero": false}, "axis": null}, "text": {"field": "s"}}},
  {"data": {"values": [{"t":2.55,"y":0.01335,"s":"Water layer"},{"t":2.55,"y":0.0108,"s":"during the event"}]},
   "mark": {"type": "text", "fontSize": 19, "fontStyle": "italic", "align": "center", "baseline": "alphabetic", "color": "#111"},
   "encoding": {"x": {"field": "t", "type": "quantitative", "scale": {"domain": [1.2, 3], "nice": false, "zero": false, "clamp": true}, "axis": null},
     "y": {"field": "y", "type": "quantitative", "scale": {"domain": [0, 0.045], "nice": false, "zero": false}, "axis": null}, "text": {"field": "s"}}}
 ]
},
{
 "spacing": 0,
 "resolve": {"scale": {"color": "independent", "shape": "independent"}, "legend": {"color": "independent", "shape": "independent"}},
 "vconcat": [
 {
  "width": 1067, "height": 366,
  "resolve": {"axis": {"x": "independent", "y": "independent"}},
  "layer": [
   {"data": {"name": "pb"}, "mark": {"type": "point", "opacity": 0},
    "encoding": {"x": {"field": "x", "type": "quantitative", "scale": {"domain": [-0.37, 0], "nice": false, "zero": false},
      "axis": {"orient": "bottom", "tickCount": 74, "tickSize": -11, "tickDash": {"condition": {"test": "abs(datum.value*20-round(datum.value*20))<1e-6", "value": [20, 0]}, "value": [6, 30]}, "labels": false, "title": null}},
     "y": {"field": "r", "type": "quantitative", "scale": {"domain": [0.2, 1.4], "nice": false, "zero": false},
      "axis": {"orient": "left", "values": [0.2,0.24,0.28,0.32,0.36,0.4,0.44,0.48,0.52,0.56,0.6,0.64,0.68,0.72,0.76,0.8,0.84,0.88,0.92,0.96,1,1.04,1.08,1.12,1.16,1.2,1.24,1.28,1.32,1.36,1.4], "tickSize": -11, "tickDash": {"condition": {"test": "abs(datum.value*5-round(datum.value*5))<1e-6", "value": [20, 0]}, "value": [6, 30]}, "labelExpr": "abs(datum.value*5-round(datum.value*5))<1e-6 ? format(datum.value,'~g') : ''", "labelPadding": 18, "labelOverlap": false, "labelFlush": false, "labelBaseline": {"condition": {"test": "datum.value < 0.21", "value": "bottom"}, "value": "middle"}, "title": "η₀,ₒᵤₜ/η₀", "titleFontSize": 30, "titleAngle": 270, "titleX": -53, "titleY": 211, "titleBaseline": "middle", "titleAlign": "center"}}}},
   {"data": {"name": "pb"}, "mark": {"type": "point", "opacity": 0},
    "encoding": {"x": {"field": "x", "type": "quantitative", "scale": {"domain": [-0.37, 0], "nice": false, "zero": false},
      "axis": {"orient": "top", "tickCount": 74, "tickSize": -11, "tickDash": {"condition": {"test": "abs(datum.value*20-round(datum.value*20))<1e-6", "value": [20, 0]}, "value": [6, 30]}, "labels": false, "title": null}},
     "y": {"field": "r", "type": "quantitative", "scale": {"domain": [0.2, 1.4], "nice": false, "zero": false},
      "axis": {"orient": "right", "values": [0.2,0.24,0.28,0.32,0.36,0.4,0.44,0.48,0.52,0.56,0.6,0.64,0.68,0.72,0.76,0.8,0.84,0.88,0.92,0.96,1,1.04,1.08,1.12,1.16,1.2,1.24,1.28,1.32,1.36,1.4], "tickSize": -11, "tickDash": {"condition": {"test": "abs(datum.value*5-round(datum.value*5))<1e-6", "value": [20, 0]}, "value": [6, 30]}, "labels": false, "title": null}}}},
   {"data": {"name": "gauges"},
    "mark": {"type": "rule", "color": "#222", "strokeWidth": 1, "strokeDash": [10, 7]},
    "encoding": {"x": {"field": "x", "type": "quantitative", "scale": {"domain": [-0.37, 0], "nice": false, "zero": false}, "axis": null}}},
   {"data": {"name": "gauges"},
    "mark": {"type": "text", "angle": 270, "align": "left", "baseline": "middle", "dy": -12, "fontSize": 18, "color": "#111"},
    "encoding": {"x": {"field": "x", "type": "quantitative", "scale": {"domain": [-0.37, 0], "nice": false, "zero": false}, "axis": null},
      "y": {"field": "yb", "type": "quantitative", "scale": {"domain": [0.2, 1.4], "nice": false, "zero": false}, "axis": null},
      "text": {"field": "g"}}},
   {"data": {"values": [{}]},
    "mark": {"type": "rule", "color": "#e8141c", "strokeWidth": 5, "strokeDash": [26, 10]},
    "encoding": {"y": {"datum": 1, "type": "quantitative", "scale": {"domain": [0.2, 1.4], "nice": false, "zero": false}, "axis": null}}},
   {"data": {"name": "pb"},
    "mark": {"type": "line", "strokeWidth": 1.5},
    "encoding": {"x": {"field": "x", "type": "quantitative", "scale": {"domain": [-0.37, 0], "nice": false, "zero": false}, "axis": null},
     "y": {"field": "r", "type": "quantitative", "scale": {"domain": [0.2, 1.4], "nice": false, "zero": false}, "axis": null},
     "color": {"field": "c", "type": "nominal", "scale": {"domain": ["C1","C2","C3","C4","C5"], "range": ["#111111","#0a0aff","#ff1a1a","#2b83c4","#1ee01e"]},
       "legend": {"title": null, "orient": "none", "legendX": 820, "legendY": 240, "padding": 5, "fillColor": "white", "strokeColor": "#111", "labelFontSize": 19.5, "labelColor": "#111", "labelLimit": 320, "labelExpr": "datum.value=='C1' ? 'C1, FB=0.042 m, ε~0.241' : datum.value=='C2' ? 'C2, FB=0.030 m, ε~0.216' : datum.value=='C3' ? 'C3, FB=0.024 m, ε~0.209' : datum.value=='C4' ? 'C4, FB=0.018 m, ε~0.203' : 'C5, FB=0.006 m, ε~0.183'", "symbolSize": 100, "symbolOffset": 4, "labelOffset": 14, "rowPadding": 2.3, "symbolStrokeWidth": 1.5, "symbolFillColor": "white", "symbolOpacity": 1}}}},
   {"data": {"name": "pb"},
    "mark": {"type": "point", "filled": false, "opacity": 0, "strokeWidth": 1.5},
    "encoding": {"x": {"field": "x", "type": "quantitative", "scale": {"domain": [-0.37, 0], "nice": false, "zero": false}, "axis": null},
     "y": {"field": "r", "type": "quantitative", "scale": {"domain": [0.2, 1.4], "nice": false, "zero": false}, "axis": null},
     "color": {"field": "c", "type": "nominal", "scale": {"domain": ["C1","C2","C3","C4","C5"], "range": ["#111111","#0a0aff","#ff1a1a","#2b83c4","#1ee01e"]},
       "legend": {"title": null, "orient": "none", "legendX": 820, "legendY": 240, "padding": 5, "fillColor": "white", "strokeColor": "#111", "labelFontSize": 19.5, "labelColor": "#111", "labelLimit": 320, "labelExpr": "datum.value=='C1' ? 'C1, FB=0.042 m, ε~0.241' : datum.value=='C2' ? 'C2, FB=0.030 m, ε~0.216' : datum.value=='C3' ? 'C3, FB=0.024 m, ε~0.209' : datum.value=='C4' ? 'C4, FB=0.018 m, ε~0.203' : 'C5, FB=0.006 m, ε~0.183'", "symbolSize": 100, "symbolOffset": 4, "labelOffset": 14, "rowPadding": 2.3, "symbolStrokeWidth": 1.5, "symbolFillColor": "white", "symbolOpacity": 1}},
     "shape": {"field": "c", "type": "nominal", "scale": {"domain": ["C1","C2","C3","C4","C5"], "range": ["M-2.1,0H-1M1,0H2.1M-1,-1H1V1H-1Z", "M-2.1,0H-1M1,0H2.1M-1,0A1,1 0 1,0 1,0A1,1 0 1,0 -1,0Z", "M-2.1,0H-0.55M0.55,0H2.1M0,-1L1,0.8H-1Z", "M-2.1,0H-0.8M0.9,0H2.1M-0.8,-1L0.9,0L-0.8,1Z", "M-2.1,0H-1M1,0H2.1M-1,-1H1V1H-1Z"]},
       "legend": {"title": null, "orient": "none", "legendX": 820, "legendY": 240, "padding": 5, "fillColor": "white", "strokeColor": "#111", "labelFontSize": 19.5, "labelColor": "#111", "labelLimit": 320, "labelExpr": "datum.value=='C1' ? 'C1, FB=0.042 m, ε~0.241' : datum.value=='C2' ? 'C2, FB=0.030 m, ε~0.216' : datum.value=='C3' ? 'C3, FB=0.024 m, ε~0.209' : datum.value=='C4' ? 'C4, FB=0.018 m, ε~0.203' : 'C5, FB=0.006 m, ε~0.183'", "symbolSize": 100, "symbolOffset": 4, "labelOffset": 14, "rowPadding": 2.3, "symbolStrokeWidth": 1.5, "symbolFillColor": "white", "symbolOpacity": 1}}}},
   {"data": {"name": "pb"}, "transform": [{"filter": "datum.c == 'C1'"}], "mark": {"type": "point", "shape": "square", "color": "#111111", "filled": false, "fill": "white", "size": 100, "strokeWidth": 1.5, "opacity": 1},
    "encoding": {"x": {"field": "x", "type": "quantitative", "scale": {"domain": [-0.37, 0], "nice": false, "zero": false}, "axis": null}, "y": {"field": "r", "type": "quantitative", "scale": {"domain": [0.2, 1.4], "nice": false, "zero": false}, "axis": null}}},
   {"data": {"name": "pb"}, "transform": [{"filter": "datum.c == 'C2'"}], "mark": {"type": "point", "shape": "circle", "color": "#0a0aff", "filled": false, "fill": "white", "size": 100, "strokeWidth": 1.5, "opacity": 1},
    "encoding": {"x": {"field": "x", "type": "quantitative", "scale": {"domain": [-0.37, 0], "nice": false, "zero": false}, "axis": null}, "y": {"field": "r", "type": "quantitative", "scale": {"domain": [0.2, 1.4], "nice": false, "zero": false}, "axis": null}}},
   {"data": {"name": "pb"}, "transform": [{"filter": "datum.c == 'C3'"}], "mark": {"type": "point", "shape": "triangle-up", "color": "#ff1a1a", "filled": false, "fill": "white", "size": 100, "strokeWidth": 1.5, "opacity": 1},
    "encoding": {"x": {"field": "x", "type": "quantitative", "scale": {"domain": [-0.37, 0], "nice": false, "zero": false}, "axis": null}, "y": {"field": "r", "type": "quantitative", "scale": {"domain": [0.2, 1.4], "nice": false, "zero": false}, "axis": null}}},
   {"data": {"name": "pb"}, "transform": [{"filter": "datum.c == 'C4'"}], "mark": {"type": "point", "shape": "triangle-right", "color": "#2b83c4", "filled": false, "fill": "white", "size": 100, "strokeWidth": 1.5, "opacity": 1},
    "encoding": {"x": {"field": "x", "type": "quantitative", "scale": {"domain": [-0.37, 0], "nice": false, "zero": false}, "axis": null}, "y": {"field": "r", "type": "quantitative", "scale": {"domain": [0.2, 1.4], "nice": false, "zero": false}, "axis": null}}},
   {"data": {"name": "pb"}, "transform": [{"filter": "datum.c == 'C5'"}], "mark": {"type": "point", "shape": "square", "color": "#1ee01e", "filled": false, "fill": "white", "size": 100, "strokeWidth": 1.5, "opacity": 1},
    "encoding": {"x": {"field": "x", "type": "quantitative", "scale": {"domain": [-0.37, 0], "nice": false, "zero": false}, "axis": null}, "y": {"field": "r", "type": "quantitative", "scale": {"domain": [0.2, 1.4], "nice": false, "zero": false}, "axis": null}}},
   {"data": {"values": [{"x":-0.3527,"y":1.249,"s":"(b)"}]},
    "mark": {"type": "text", "fontSize": 44, "fontStyle": "italic", "align": "center", "baseline": "middle", "color": "#111"},
    "encoding": {"x": {"field": "x", "type": "quantitative", "scale": {"domain": [-0.37, 0], "nice": false, "zero": false}, "axis": null},
     "y": {"field": "y", "type": "quantitative", "scale": {"domain": [0.2, 1.4], "nice": false, "zero": false}, "axis": null}, "text": {"field": "s"}}},
   {"data": {"values": [{"x":-0.0248,"y":1.236,"s":"EXP1"}]},
    "mark": {"type": "text", "fontSize": 42, "fontWeight": "bold", "align": "center", "baseline": "alphabetic", "color": "#111"},
    "encoding": {"x": {"field": "x", "type": "quantitative", "scale": {"domain": [-0.37, 0], "nice": false, "zero": false}, "axis": null},
     "y": {"field": "y", "type": "quantitative", "scale": {"domain": [0.2, 1.4], "nice": false, "zero": false}, "axis": null}, "text": {"field": "s"}}}
  ]
 },
 {
  "width": 1067, "height": 365,
  "resolve": {"axis": {"x": "independent", "y": "independent"}},
  "layer": [
   {"data": {"name": "pc"}, "mark": {"type": "point", "opacity": 0},
    "encoding": {"x": {"field": "x", "type": "quantitative", "scale": {"domain": [-0.37, 0], "nice": false, "zero": false},
      "axis": {"orient": "bottom", "tickCount": 74, "tickSize": -11, "tickDash": {"condition": {"test": "abs(datum.value*20-round(datum.value*20))<1e-6", "value": [20, 0]}, "value": [6, 30]}, "labelExpr": "abs(datum.value*20-round(datum.value*20))<1e-6 ? replace(format(datum.value,'~g'),'\u2212','-') : ''", "labelPadding": 21, "labelOverlap": false, "labelFlush": false, "title": "x/Lₛₜ", "titleFontSize": 30, "titleX": 542, "titleY": 42, "titleBaseline": "middle"}},
     "y": {"field": "r", "type": "quantitative", "scale": {"domain": [0.86, 1], "nice": false, "zero": false},
      "axis": {"orient": "left", "values": [0.86,0.864,0.868,0.872,0.876,0.88,0.884,0.888,0.892,0.896,0.9,0.904,0.908,0.912,0.916,0.92,0.924,0.928,0.932,0.936,0.94,0.944,0.948,0.952,0.956,0.96,0.964,0.968,0.972,0.976,0.98,0.984,0.988,0.992,0.996,1], "tickSize": -11, "tickDash": {"condition": {"test": "abs(datum.value*50-round(datum.value*50))<1e-6", "value": [20, 0]}, "value": [6, 30]}, "labelExpr": "abs(datum.value*50-round(datum.value*50))<1e-6 ? format(datum.value,'~g') : ''", "labelPadding": 17, "labelOverlap": false, "labelFlush": false, "labelBaseline": {"condition": {"test": "datum.value > 0.999", "value": "top"}, "value": "middle"}, "title": "tη₀,ₒᵤₜ/tη₀", "titleFontSize": 28, "titleAngle": 270, "titleX": -65, "titleY": 184, "titleBaseline": "middle", "titleAlign": "center"}}}},
   {"data": {"name": "pc"}, "mark": {"type": "point", "opacity": 0},
    "encoding": {"x": {"field": "x", "type": "quantitative", "scale": {"domain": [-0.37, 0], "nice": false, "zero": false},
      "axis": {"orient": "top", "tickCount": 74, "tickSize": -11, "tickDash": {"condition": {"test": "abs(datum.value*20-round(datum.value*20))<1e-6", "value": [20, 0]}, "value": [6, 30]}, "labels": false, "title": null}},
     "y": {"field": "r", "type": "quantitative", "scale": {"domain": [0.86, 1], "nice": false, "zero": false},
      "axis": {"orient": "right", "values": [0.86,0.864,0.868,0.872,0.876,0.88,0.884,0.888,0.892,0.896,0.9,0.904,0.908,0.912,0.916,0.92,0.924,0.928,0.932,0.936,0.94,0.944,0.948,0.952,0.956,0.96,0.964,0.968,0.972,0.976,0.98,0.984,0.988,0.992,0.996,1], "tickSize": -11, "tickDash": {"condition": {"test": "abs(datum.value*50-round(datum.value*50))<1e-6", "value": [20, 0]}, "value": [6, 30]}, "labels": false, "title": null}}}},
   {"data": {"name": "gauges"},
    "mark": {"type": "rule", "color": "#222", "strokeWidth": 1, "strokeDash": [10, 7]},
    "encoding": {"x": {"field": "x", "type": "quantitative", "scale": {"domain": [-0.37, 0], "nice": false, "zero": false}, "axis": null}}},
   {"data": {"name": "gauges"},
    "mark": {"type": "text", "angle": 270, "align": "left", "baseline": "middle", "dy": -12, "fontSize": 18, "color": "#111"},
    "encoding": {"x": {"field": "x", "type": "quantitative", "scale": {"domain": [-0.37, 0], "nice": false, "zero": false}, "axis": null},
      "y": {"field": "yc", "type": "quantitative", "scale": {"domain": [0.86, 1], "nice": false, "zero": false}, "axis": null},
      "text": {"field": "g"}}},
   {"data": {"name": "pc"},
    "mark": {"type": "line", "strokeWidth": 1.5},
    "encoding": {"x": {"field": "x", "type": "quantitative", "scale": {"domain": [-0.37, 0], "nice": false, "zero": false}, "axis": null},
     "y": {"field": "r", "type": "quantitative", "scale": {"domain": [0.86, 1], "nice": false, "zero": false}, "axis": null},
     "color": {"field": "c", "type": "nominal", "scale": {"domain": ["C1","C2","C3","C4","C5"], "range": ["#111111","#0a0aff","#ff1a1a","#2b83c4","#1ee01e"]},
       "legend": {"title": null, "orient": "none", "legendX": 818, "legendY": 242, "padding": 5, "fillColor": "white", "strokeColor": "#111", "labelFontSize": 19.5, "labelColor": "#111", "labelLimit": 320, "labelExpr": "datum.value=='C1' ? 'C1, FB=0.042 m, ε~0.241' : datum.value=='C2' ? 'C2, FB=0.030 m, ε~0.216' : datum.value=='C3' ? 'C3, FB=0.024 m, ε~0.209' : datum.value=='C4' ? 'C4, FB=0.018 m, ε~0.203' : 'C5, FB=0.006 m, ε~0.183'", "symbolSize": 100, "symbolOffset": 4, "labelOffset": 14, "rowPadding": 2.3, "symbolStrokeWidth": 1.5, "symbolFillColor": "white", "symbolOpacity": 1}}}},
   {"data": {"name": "pc"},
    "mark": {"type": "point", "filled": false, "opacity": 0, "strokeWidth": 1.5},
    "encoding": {"x": {"field": "x", "type": "quantitative", "scale": {"domain": [-0.37, 0], "nice": false, "zero": false}, "axis": null},
     "y": {"field": "r", "type": "quantitative", "scale": {"domain": [0.86, 1], "nice": false, "zero": false}, "axis": null},
     "color": {"field": "c", "type": "nominal", "scale": {"domain": ["C1","C2","C3","C4","C5"], "range": ["#111111","#0a0aff","#ff1a1a","#2b83c4","#1ee01e"]},
       "legend": {"title": null, "orient": "none", "legendX": 818, "legendY": 242, "padding": 5, "fillColor": "white", "strokeColor": "#111", "labelFontSize": 19.5, "labelColor": "#111", "labelLimit": 320, "labelExpr": "datum.value=='C1' ? 'C1, FB=0.042 m, ε~0.241' : datum.value=='C2' ? 'C2, FB=0.030 m, ε~0.216' : datum.value=='C3' ? 'C3, FB=0.024 m, ε~0.209' : datum.value=='C4' ? 'C4, FB=0.018 m, ε~0.203' : 'C5, FB=0.006 m, ε~0.183'", "symbolSize": 100, "symbolOffset": 4, "labelOffset": 14, "rowPadding": 2.3, "symbolStrokeWidth": 1.5, "symbolFillColor": "white", "symbolOpacity": 1}},
     "shape": {"field": "c", "type": "nominal", "scale": {"domain": ["C1","C2","C3","C4","C5"], "range": ["M-2.1,0H-1M1,0H2.1M-1,-1H1V1H-1Z", "M-2.1,0H-1M1,0H2.1M-1,0A1,1 0 1,0 1,0A1,1 0 1,0 -1,0Z", "M-2.1,0H-0.55M0.55,0H2.1M0,-1L1,0.8H-1Z", "M-2.1,0H-0.8M0.9,0H2.1M-0.8,-1L0.9,0L-0.8,1Z", "M-2.1,0H-1M1,0H2.1M-1,-1H1V1H-1Z"]},
       "legend": {"title": null, "orient": "none", "legendX": 818, "legendY": 242, "padding": 5, "fillColor": "white", "strokeColor": "#111", "labelFontSize": 19.5, "labelColor": "#111", "labelLimit": 320, "labelExpr": "datum.value=='C1' ? 'C1, FB=0.042 m, ε~0.241' : datum.value=='C2' ? 'C2, FB=0.030 m, ε~0.216' : datum.value=='C3' ? 'C3, FB=0.024 m, ε~0.209' : datum.value=='C4' ? 'C4, FB=0.018 m, ε~0.203' : 'C5, FB=0.006 m, ε~0.183'", "symbolSize": 100, "symbolOffset": 4, "labelOffset": 14, "rowPadding": 2.3, "symbolStrokeWidth": 1.5, "symbolFillColor": "white", "symbolOpacity": 1}}}},
   {"data": {"name": "pc"}, "transform": [{"filter": "datum.c == 'C1'"}], "mark": {"type": "point", "shape": "square", "color": "#111111", "filled": false, "fill": "white", "size": 100, "strokeWidth": 1.5, "opacity": 1},
    "encoding": {"x": {"field": "x", "type": "quantitative", "scale": {"domain": [-0.37, 0], "nice": false, "zero": false}, "axis": null}, "y": {"field": "r", "type": "quantitative", "scale": {"domain": [0.86, 1], "nice": false, "zero": false}, "axis": null}}},
   {"data": {"name": "pc"}, "transform": [{"filter": "datum.c == 'C2'"}], "mark": {"type": "point", "shape": "circle", "color": "#0a0aff", "filled": false, "fill": "white", "size": 100, "strokeWidth": 1.5, "opacity": 1},
    "encoding": {"x": {"field": "x", "type": "quantitative", "scale": {"domain": [-0.37, 0], "nice": false, "zero": false}, "axis": null}, "y": {"field": "r", "type": "quantitative", "scale": {"domain": [0.86, 1], "nice": false, "zero": false}, "axis": null}}},
   {"data": {"name": "pc"}, "transform": [{"filter": "datum.c == 'C3'"}], "mark": {"type": "point", "shape": "triangle-up", "color": "#ff1a1a", "filled": false, "fill": "white", "size": 100, "strokeWidth": 1.5, "opacity": 1},
    "encoding": {"x": {"field": "x", "type": "quantitative", "scale": {"domain": [-0.37, 0], "nice": false, "zero": false}, "axis": null}, "y": {"field": "r", "type": "quantitative", "scale": {"domain": [0.86, 1], "nice": false, "zero": false}, "axis": null}}},
   {"data": {"name": "pc"}, "transform": [{"filter": "datum.c == 'C4'"}], "mark": {"type": "point", "shape": "triangle-right", "color": "#2b83c4", "filled": false, "fill": "white", "size": 100, "strokeWidth": 1.5, "opacity": 1},
    "encoding": {"x": {"field": "x", "type": "quantitative", "scale": {"domain": [-0.37, 0], "nice": false, "zero": false}, "axis": null}, "y": {"field": "r", "type": "quantitative", "scale": {"domain": [0.86, 1], "nice": false, "zero": false}, "axis": null}}},
   {"data": {"name": "pc"}, "transform": [{"filter": "datum.c == 'C5'"}], "mark": {"type": "point", "shape": "square", "color": "#1ee01e", "filled": false, "fill": "white", "size": 100, "strokeWidth": 1.5, "opacity": 1},
    "encoding": {"x": {"field": "x", "type": "quantitative", "scale": {"domain": [-0.37, 0], "nice": false, "zero": false}, "axis": null}, "y": {"field": "r", "type": "quantitative", "scale": {"domain": [0.86, 1], "nice": false, "zero": false}, "axis": null}}},
   {"data": {"values": [{"x":-0.353,"y":0.98285,"s":"(c)"}]},
    "mark": {"type": "text", "fontSize": 44, "fontStyle": "italic", "align": "center", "baseline": "middle", "color": "#111"},
    "encoding": {"x": {"field": "x", "type": "quantitative", "scale": {"domain": [-0.37, 0], "nice": false, "zero": false}, "axis": null},
     "y": {"field": "y", "type": "quantitative", "scale": {"domain": [0.86, 1], "nice": false, "zero": false}, "axis": null}, "text": {"field": "s"}}},
   {"data": {"values": [{"x":-0.02547,"y":0.96674,"s":"EXP1"}]},
    "mark": {"type": "text", "fontSize": 42, "fontWeight": "bold", "align": "center", "baseline": "alphabetic", "color": "#111"},
    "encoding": {"x": {"field": "x", "type": "quantitative", "scale": {"domain": [-0.37, 0], "nice": false, "zero": false}, "axis": null},
     "y": {"field": "y", "type": "quantitative", "scale": {"domain": [0.86, 1], "nice": false, "zero": false}, "axis": null}, "text": {"field": "s"}}}
  ]
 }
 ]
}
]
}
